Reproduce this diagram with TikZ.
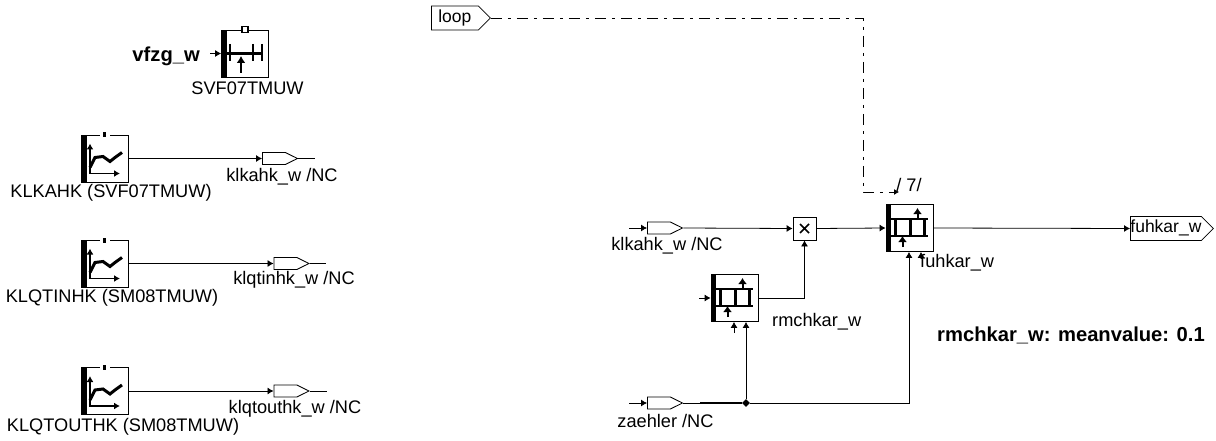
\documentclass[tikz,border=0pt]{standalone}
\usepackage{fontspec}
\setmainfont{Liberation Sans}
\usepackage{tikz}
\usetikzlibrary{arrows.meta,shapes.symbols,shapes.geometric}
\tikzset{
  lab/.style={inner sep=0pt,font=\fontsize{18.2}{20}\selectfont},
  boldlab/.style={lab,font=\fontsize{20.2}{22}\selectfont\bfseries},
  box/.style={draw,line width=0.8pt,minimum size=47pt,inner sep=0pt},
  mulbox/.style={draw,line width=0.8pt,minimum size=23pt,inner sep=0pt},
  tag/.style={draw,signal,signal to=east,signal pointer angle=53,line width=0.8pt,minimum width=35pt,minimum height=12pt,inner sep=0pt,anchor=west},
  bigtag/.style={draw,signal,signal to=east,signal pointer angle=90,line width=0.8pt,minimum height=24pt,inner sep=0pt,anchor=west,text height=13pt,text depth=4pt,font=\fontsize{17.5}{20}\selectfont},
  wire/.style={line width=0.8pt},
  sig/.style={wire,-{Latex[length=6pt,width=7pt]}},
  pics/bar/.style={code={\fill (-23.5,-23.5) rectangle (-18.5,23.5);}},
  pics/curvemark/.style={code={
    \fill[white] (-5,-25) rectangle (5,-22);
    \fill (-2,-26) rectangle (1,-21);
    \draw[line width=1.8pt,{Latex[length=6pt,width=7pt]}-{Latex[length=6pt,width=7pt]}] (-15,-15) -- (-15,15) -- (15,15);
    \draw[line width=3pt] (-15,9) -- (-10,-1) -- (-2,-2) -- (5,3) -- (10,-1) -- (17,-6);
  }},
  pics/tablemark/.style={code={
    \draw[line width=2.6pt] (-20,-9) -- (18,-9) (-20,8) -- (18,8) (-14,-9) -- (-14,8) (1,-9) -- (1,8) (15,-9) -- (15,8);
    \draw[line width=2pt,-{Latex[length=6pt,width=9pt]}] (8,-9) -- (8,-20);
    \draw[line width=2pt,-{Latex[length=6pt,width=9pt]}] (-7,19) -- (-7,8);
  }},
}
\begin{document}
\begin{tikzpicture}[x=1pt,y=-1pt]
  \useasboundingbox (0,0) rectangle (1216,441);

  % left column
  \node (svf) [box] at (245,53.5) {};
  \path (svf.center) pic {bar};
  \draw[line width=3pt] (225,53.5) -- (263,53.5);
  \draw[line width=1.8pt] (230,44) -- (230,61) (253,44) -- (253,61) (262,44) -- (262,61);
  \draw[line width=2pt,-{Latex[length=7pt,width=9pt]}] (241,73) -- (241,56);
  \node (svftop) [draw,fill=white,line width=1.4pt,minimum size=6pt,inner sep=0pt] at (245,29.5) {};
  \node (vfzg) [boldlab,anchor=east] at (200,56) {vfzg\_w};
  \coordinate (vfzgin) at (210,53.5);
  \draw[sig] (vfzgin) -- (svf.west);
  \node (svflab) [lab] at (247.5,88) {SVF07TMUW};

  \node (klkahk) [box] at (105,158.5) {};
  \path (klkahk.center) pic {bar} pic {curvemark};
  \node (klkahkout) [tag] at (262,158.5) {};
  \coordinate (klkahkend) at (315,158.5);
  \draw[sig] (klkahk.east) -- (klkahkout.west);
  \draw[wire] (klkahkout.east) -- (klkahkend);
  \node (klkahklab) [lab] at (282,177) {klkahk\_w /NC};
  \node (klkahkname) [lab] at (111,193) {KLKAHK (SVF07TMUW)};

  \node (klqtinhk) [box] at (105,263.5) {};
  \path (klqtinhk.center) pic {bar} pic {curvemark};
  \node (klqtinhkout) [tag] at (273.5,263.5) {};
  \coordinate (klqtinhkend) at (326,263.5);
  \draw[sig] (klqtinhk.east) -- (klqtinhkout.west);
  \draw[wire] (klqtinhkout.east) -- (klqtinhkend);
  \node (klqtinhklab) [lab] at (294,280) {klqtinhk\_w /NC};
  \node (klqtinhkname) [lab] at (112,298) {KLQTINHK (SM08TMUW)};

  \node (klqtouthk) [box] at (105,391) {};
  \path (klqtouthk.center) pic {bar} pic {curvemark};
  \node (klqtouthkout) [tag] at (273.5,391) {};
  \coordinate (klqtouthkend) at (327,391);
  \draw[sig] (klqtouthk.east) -- (klqtouthkout.west);
  \draw[wire] (klqtouthkout.east) -- (klqtouthkend);
  \node (klqtouthklab) [lab] at (295,409) {klqtouthk\_w /NC};
  \node (klqtouthkname) [lab] at (123,426.5) {KLQTOUTHK (SM08TMUW)};

  % loop
  \node (loop) [bigtag,minimum width=59pt] at (431,18) {loop};
  \node (seven) [lab] at (909,185) {/ 7/};
  \coordinate (loopend) at (899,192);
  \draw[wire,dash pattern=on 11pt off 6pt on 3pt off 6pt,-{Latex[length=5pt,width=6pt]}] (loop.east) -| (863,192) -- (loopend);

  % right part
  \node (fuhkar) [box] at (909.5,228) {};
  \path (fuhkar.center) pic {bar} pic {tablemark};
  \node (rmchkar) [box] at (734.5,298) {};
  \path (rmchkar.center) pic {bar} pic {tablemark};
  \node (mul) [mulbox] at (804.5,228.5) {};
  \draw[line width=1.6pt] (800,224) -- (809,233) (809,224) -- (800,233);

  \node (klkahkin) [tag] at (647,228) {};
  \coordinate (klkahkstart) at (629,228);
  \draw[sig] (klkahkstart) -- (klkahkin.west);
  \draw[sig] (klkahkin.east) -- (mul.west);
  \draw[sig] (mul.east) -- (fuhkar.west);
  \node (klkahkinlab) [lab] at (667,246) {klkahk\_w /NC};

  \node (zaehler) [tag] at (647,403) {};
  \coordinate (zaehlerstart) at (629,403);
  \draw[sig] (zaehlerstart) -- (zaehler.west);
  \node (zaehlerlab) [lab] at (665.5,421) {zaehler /NC};
  \node (junc) [diamond,fill,minimum size=8pt,inner sep=0pt] at (746,403) {};
  \draw[wire] (zaehler.east) -- (junc);
  \draw[line width=2.2pt] (700,403) -- (junc);
  \draw[sig] (junc) -- (rmchkar.south -| junc);
  \draw[sig] (junc) -| (fuhkar.south -| 909,252);
  \draw[sig] (rmchkar.east) -| (mul.south);

  \coordinate (rmchkarin) at (699,298);
  \coordinate (rmchkarlow) at (734,333);
  \coordinate (fuhkarlow) at (921,258);
  \draw[sig] (rmchkarin) -- (rmchkar.west);
  \draw[sig] (rmchkarlow) -- (rmchkar.south -| rmchkarlow);
  \draw[sig] (fuhkarlow) -- (fuhkar.south -| fuhkarlow);
  \node (rmchkarlab) [lab,anchor=west] at (772,322) {rmchkar\_w};
  \node (fuhkarlab) [lab,anchor=west] at (920,263) {fuhkar\_w};

  \node (fuhkarout) [bigtag] at (1130,228.5) {fuhkar\_w};
  \draw[sig] (fuhkar.east) -- (fuhkarout.west);
  \node (meanlab) [boldlab,anchor=west] at (937,335) {rmchkar\_w: meanvalue: 0.1};
\end{tikzpicture}
\end{document}
